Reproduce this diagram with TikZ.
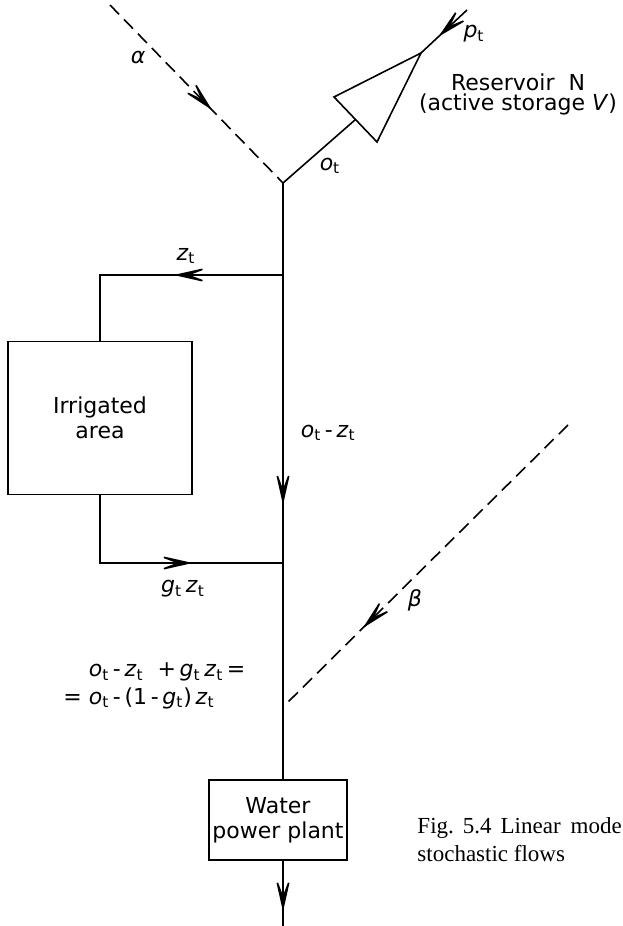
\documentclass[tikz,border=0pt]{standalone}
\usepackage{fontspec}
\setmainfont{DejaVu Sans}
\newfontfamily\capfont{Liberation Serif}
\usetikzlibrary{arrows.meta,decorations.markings}
\newcommand{\fv}[1]{\textit{#1}\textsubscript{t}}

\begin{document}
\begin{tikzpicture}[x=0.5pt,y=-0.5pt, line width=0.8pt,
  every node/.style={font=\fontsize{11}{10}\selectfont},
  box/.style={draw, align=center, inner sep=0pt, font=\fontsize{11}{12.5}\selectfont},
  lbl/.style={inner sep=1pt},
  inflow/.style={dash pattern=on 6.5pt off 3.5pt},
  midarrow/.style={postaction={decorate}, decoration={markings,
    mark=at position #1 with {\arrow{Stealth[length=20pt,width=9pt,inset=12pt]}}}}]
  \useasboundingbox (0,0) rectangle (622,926);
  % reservoir and junction
  \coordinate (J) at (283,183);
  \coordinate (resL) at (334,97);
  \coordinate (resB) at (377,142);
  \coordinate (resT) at (421,53);
  \coordinate (resM) at (355.5,119.5);
  \coordinate (pIn) at (467,10);
  \coordinate (aIn) at (110,5);
  \coordinate (bIn) at (568,425);
  \draw (resL) -- (resB) -- (resT) -- cycle;
  \draw (J) -- (resM);
  \draw[midarrow=0.62] (pIn) -- (resT);
  \draw[inflow, midarrow=0.59] (aIn) -- (J);
  % blocks
  \node[box, minimum width=92pt, minimum height=76.5pt] (irr) at (100,418) {Irrigated\\area};
  \node[box, minimum width=69pt, minimum height=40pt] (plant) at (278,820) {Water\\power plant};
  \coordinate (tapZ) at (283,275);
  \coordinate (tapG) at (283,563);
  \coordinate (tapB) at (283,707);
  \coordinate (out) at (283,926);
  % flows
  \draw[midarrow=0.54] (J) -- (J |- plant.north);
  \draw[midarrow=0.44] (tapZ) -| (irr.north);
  \draw[midarrow=0.64] (irr.south) |- (tapG);
  \draw[inflow, midarrow=0.72] (bIn) -- (tapB);
  \draw[midarrow=0.78] (J |- plant.south) -- (out);
  % labels
  \node[lbl] (alpha) at (138,57) {\textit{α}};
  \node[lbl] (ot) at (330,166) {\fv{o}};
  \node[lbl] (pt) at (474,34) {\fv{p}};
  \node[lbl, align=center] (resname) at (518,94) {Reservoir\ \ N\\(active storage \textit{V})};
  \node[lbl] (zt) at (186,256) {\fv{z}};
  \node[lbl, anchor=west] (otzt) at (298,433) {\fv{o}\,-\,\fv{z}};
  \node[lbl] (gtzt) at (183,589) {\fv{g}\,\fv{z}};
  \node[lbl, anchor=west, align=left] (sum) at (86,686) {\fv{o}\,-\,\fv{z}\ \ +\,\fv{g}\,\fv{z}\,=\\[2pt]\llap{=\ }\fv{o}\,-\,(1\,-\,\fv{g})\,\fv{z}};
  \node[lbl] (beta) at (415,600) {\textit{β}};
  \node[anchor=north west, align=left, font=\capfont\fontsize{11.5}{14}\selectfont] (cap) at (410,810) {Fig.\hspace{4.5pt}5.4\hspace{4.5pt}Linear\hspace{5pt}mode\\stochastic flows};
\end{tikzpicture}
\end{document}
